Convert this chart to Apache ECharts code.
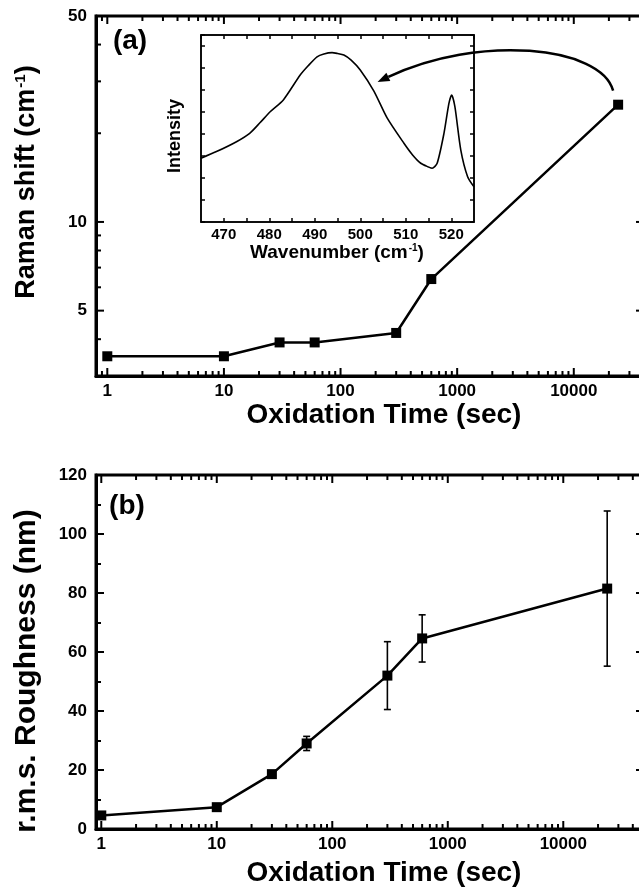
<!DOCTYPE html>
<html><head><meta charset="utf-8">
<script src="https://cdn.jsdelivr.net/npm/echarts@6/dist/echarts.min.js"></script>
<style>html,body{margin:0;padding:0;background:#fff;overflow:hidden}#c{width:660px;height:890px}</style>
</head><body><div id="c"></div>
<script>
// ---- data ----
const ramanTime = [1, 10, 30, 60, 300, 600, 24000];
const ramanShift = [3.5, 3.5, 3.9, 3.9, 4.2, 6.4, 25];
const ramanTickLabels = [5, 10, 50];
const ramanMinorTicks = [3, 4, 6, 7, 8, 9, 20, 30, 40];

const wavenumber = [465, 468.4, 472.8, 475.7, 478, 480.2, 483.1, 486.8, 488.5, 490.5, 492, 493.8, 495, 496.4, 498, 500, 503.0, 505.9, 509.6, 511.5, 513.3, 515, 515.8, 516.9, 518.4, 519.5, 520.1, 520.8, 522.1, 523.6, 525];
const intensity = [29.0, 32.0, 36.5, 40.3, 45.2, 50.1, 55.5, 66.8, 70.9, 75.1, 76.4, 77.0, 76.6, 75.9, 73.6, 69.1, 59.5, 47.3, 35.8, 30.5, 26.7, 25.0, 24.4, 26.7, 40.3, 54.0, 57.7, 52.4, 32.7, 20.6, 16.0];

const roughTime = [1, 10, 30, 60, 300, 600, 24000];
const roughness = [4.6, 7.4, 18.6, 29.0, 52.0, 64.6, 81.5];
const roughErr = [0, 0, 0, 2.4, 11.5, 8.0, 26.3];

const timeTickLabels = [1, 10, 100, 1000, 10000];

// ---- helpers ----
const FF = '"Liberation Sans", Arial, Helvetica, sans-serif';
const lbl = (size) => ({ fontSize: size, fontWeight: 'bold', fontFamily: FF, color: '#000' });

function logTickValues(min, max) {
  const out = [];
  for (let e = -1; e <= 6; e++) {
    for (let m = 1; m <= 9; m++) {
      const v = m * Math.pow(10, e);
      if (v > min * 1.0001 && v < max * 0.9999) out.push({ value: v, major: m === 1 });
    }
  }
  return out;
}

function xTickSeries(xi, yi, yRef, vals) {
  return {
    type: 'custom', xAxisIndex: xi, yAxisIndex: yi, silent: true, z: 6, clip: false,
    encode: { x: 0, y: 1 },
    data: vals.map(v => [v.value, yRef, v.major ? 1 : 0]),
    renderItem(params, api) {
      const cs = params.coordSys;
      const x = api.coord([api.value(0), api.value(1)])[0];
      const len = api.value(2) ? 8 : 5;
      const st = { stroke: '#000', lineWidth: 2 };
      const yb = cs.y + cs.height, yt = cs.y;
      return { type: 'group', children: [
        { type: 'line', shape: { x1: x, y1: yb, x2: x, y2: yb - len }, style: st },
        { type: 'line', shape: { x1: x, y1: yt, x2: x, y2: yt + len }, style: st }
      ] };
    }
  };
}

function yTickSeries(xi, yi, xRef, vals) {
  return {
    type: 'custom', xAxisIndex: xi, yAxisIndex: yi, silent: true, z: 6, clip: false,
    encode: { x: 0, y: 1 },
    data: vals.map(v => [xRef, v.value, v.major ? 1 : 0]),
    renderItem(params, api) {
      const cs = params.coordSys;
      const val = api.value(1);
      const y = api.coord([api.value(0), val])[1];
      const major = api.value(2);
      const len = major ? 8 : 5;
      const st = { stroke: '#000', lineWidth: 2 };
      const xl = cs.x, xr = cs.x + cs.width;
      const ch = [
        { type: 'line', shape: { x1: xl, y1: y, x2: xl + len, y2: y }, style: st },
        { type: 'line', shape: { x1: xr, y1: y, x2: xr - len, y2: y }, style: st }
      ];
      if (major) ch.push({ type: 'text', x: xl - 9, y: y,
        style: { text: String(val), align: 'right', verticalAlign: 'middle',
                 font: 'bold 17px ' + FF, fill: '#000' } });
      return { type: 'group', children: ch };
    }
  };
}

const topXMin = 0.8, topXMax = 40000, botXMin = 0.9, botXMax = 50000;
const ramanYTicks = ramanTickLabels.map(v => ({ value: v, major: true }))
  .concat(ramanMinorTicks.map(v => ({ value: v, major: false })));

const logLabel = {
  ...lbl(17), margin: 7, showMinLabel: false, showMaxLabel: false,
  formatter: v => {
    const l = Math.log10(v);
    const r = Math.round(l);
    if (Math.abs(l - r) > 1e-6) return '';
    const n = Math.round(Math.pow(10, r));
    return timeTickLabels.indexOf(n) >= 0 ? String(n) : '';
  }
};
const thickLine = { show: true, onZero: false, lineStyle: { color: '#000', width: 3 } };
const thinLine = { show: true, onZero: false, lineStyle: { color: '#000', width: 1.5 } };

const chart = echarts.init(document.getElementById('c'), null, { renderer: 'canvas' });

const option = {
  animation: false,
  backgroundColor: '#fff',
  grid: [
    { left: 96, top: 16, width: 548, height: 360, show: true, borderColor: '#000', borderWidth: 3, backgroundColor: 'transparent' },
    { left: 201, top: 35, width: 273, height: 187, show: true, borderColor: '#000', borderWidth: 1.5, backgroundColor: '#fff', z: 3 },
    { left: 96, top: 475, width: 548, height: 354, show: true, borderColor: '#000', borderWidth: 3, backgroundColor: 'transparent' }
  ],
  xAxis: [
    { type: 'log', logBase: 10, gridIndex: 0, min: topXMin, max: topXMax,
      axisLine: thickLine, axisTick: { show: false }, splitLine: { show: false }, axisLabel: logLabel },
    { type: 'value', gridIndex: 1, min: 465, max: 525, interval: 5, z: 4,
      axisLine: thinLine, axisTick: { show: true, inside: true, length: 4, lineStyle: { width: 1.5, color: '#000' } },
      splitLine: { show: false },
      axisLabel: { ...lbl(15), margin: 5, showMinLabel: false, showMaxLabel: false,
        formatter: v => (v % 10 === 0 ? String(v) : '') } },
    { type: 'value', gridIndex: 1, position: 'top', min: 465, max: 525, interval: 5, z: 4,
      axisLine: thinLine, axisTick: { show: true, inside: true, length: 4, lineStyle: { width: 1.5, color: '#000' } },
      splitLine: { show: false }, axisLabel: { show: false } },
    { type: 'log', logBase: 10, gridIndex: 2, min: botXMin, max: botXMax,
      axisLine: thickLine, axisTick: { show: false }, splitLine: { show: false }, axisLabel: logLabel }
  ],
  yAxis: [
    { type: 'log', logBase: 10, gridIndex: 0, min: 3, max: 50,
      axisLine: thickLine, axisTick: { show: false }, splitLine: { show: false }, axisLabel: { show: false } },
    { type: 'value', gridIndex: 1, min: 0, max: 85, interval: 10, z: 4,
      axisLine: thinLine, axisTick: { show: true, inside: true, length: 4, lineStyle: { width: 1.5, color: '#000' } },
      splitLine: { show: false }, axisLabel: { show: false } },
    { type: 'value', gridIndex: 1, position: 'right', min: 0, max: 85, interval: 10, z: 4,
      axisLine: thinLine, axisTick: { show: true, inside: true, length: 4, lineStyle: { width: 1.5, color: '#000' } },
      splitLine: { show: false }, axisLabel: { show: false } },
    { type: 'value', gridIndex: 2, min: 0, max: 120, interval: 20,
      axisLine: thickLine,
      axisTick: { show: true, inside: true, length: 8, lineStyle: { width: 2, color: '#000' } },
      minorTick: { show: true, splitNumber: 2, length: 5, lineStyle: { width: 2, color: '#000' } },
      splitLine: { show: false }, minorSplitLine: { show: false },
      axisLabel: { ...lbl(17), margin: 9 } },
    { type: 'value', gridIndex: 2, position: 'right', min: 0, max: 120, interval: 20,
      axisLine: { show: false },
      axisTick: { show: true, inside: true, length: 8, lineStyle: { width: 2, color: '#000' } },
      minorTick: { show: true, splitNumber: 2, length: 5, lineStyle: { width: 2, color: '#000' } },
      splitLine: { show: false }, minorSplitLine: { show: false }, axisLabel: { show: false } }
  ],
  series: [
    { name: 'Raman shift', type: 'line', xAxisIndex: 0, yAxisIndex: 0, z: 5,
      data: ramanTime.map((t, i) => [t, ramanShift[i]]),
      symbol: 'rect', symbolSize: 10, lineStyle: { color: '#000', width: 2.5 }, itemStyle: { color: '#000' } },
    { name: 'Spectrum', type: 'line', xAxisIndex: 1, yAxisIndex: 1, z: 5, smooth: 0.25,
      data: wavenumber.map((w, i) => [w, intensity[i]]),
      showSymbol: false, lineStyle: { color: '#000', width: 1.6 } },
    { name: 'Roughness', type: 'line', xAxisIndex: 3, yAxisIndex: 3, z: 5,
      data: roughTime.map((t, i) => [t, roughness[i]]),
      symbol: 'rect', symbolSize: 10, lineStyle: { color: '#000', width: 2.5 }, itemStyle: { color: '#000' } },
    { name: 'Roughness error', type: 'custom', xAxisIndex: 3, yAxisIndex: 3, z: 6, silent: true,
      encode: { x: 0, y: 1 },
      data: roughTime.map((t, i) => [t, roughness[i], roughErr[i]]),
      renderItem(params, api) {
        const x = api.value(0), y = api.value(1), e = api.value(2);
        if (!e) return;
        const a = api.coord([x, y + e]), b = api.coord([x, y - e]);
        const w = 3.5, st = { stroke: '#000', lineWidth: 1.6 };
        return { type: 'group', children: [
          { type: 'line', shape: { x1: a[0], y1: a[1], x2: b[0], y2: b[1] }, style: st },
          { type: 'line', shape: { x1: a[0] - w, y1: a[1], x2: a[0] + w, y2: a[1] }, style: st },
          { type: 'line', shape: { x1: b[0] - w, y1: b[1], x2: b[0] + w, y2: b[1] }, style: st }
        ] };
      } },
    xTickSeries(0, 0, 3, logTickValues(topXMin, topXMax)),
    yTickSeries(0, 0, topXMin, ramanYTicks),
    xTickSeries(3, 3, 0, logTickValues(botXMin, botXMax))
  ]
};
chart.setOption(option);

// ---- annotations: titles, panel labels, arrow ----
const titleRich = (size) => ({
  n: { fontSize: size, fontWeight: 'bold', fontFamily: FF, fill: '#000', color: '#000' },
  s: { fontSize: Math.round(size * 0.55), fontWeight: 'bold', fontFamily: FF, fill: '#000', color: '#000', verticalAlign: 'top', padding: [0, 0, 0, 1] }
});
function txt(id, x, y, text, size, rot, rich) {
  return { type: 'text', id, x, y, rotation: rot || 0, z: 10,
    style: { text, fill: '#000', align: 'center', verticalAlign: 'middle',
      font: 'bold ' + size + 'px ' + FF, rich } };
}

const p0 = chart.convertToPixel({ xAxisIndex: 0, yAxisIndex: 0 }, [ramanTime[6], ramanShift[6]]);
const pEnd = chart.convertToPixel({ xAxisIndex: 1, yAxisIndex: 1 }, [503.8, 63.6]);
const S = [p0[0] - 5, p0[1] - 14];
const E = pEnd;
const C1 = [S[0] - 12, S[1] - 45];
const C2 = [E[0] + 100, E[1] - 48];
let dx = E[0] - C2[0], dy = E[1] - C2[1];
const dl = Math.hypot(dx, dy); dx /= dl; dy /= dl;
const base = [E[0] - dx * 12, E[1] - dy * 12];
const px = -dy, py = dx;

chart.setOption({
  graphic: [
    txt('ta', 27, 182, '{n|Raman shift (cm}{s|-1}{n|)}', 27, Math.PI / 2, titleRich(27)),
    txt('tx1', 384, 415, 'Oxidation Time (sec)', 28),
    txt('tb', 27, 671, 'r.m.s. Roughness (nm)', 30, Math.PI / 2),
    txt('tx2', 384, 873, 'Oxidation Time (sec)', 28),
    txt('pa', 130, 41, '(a)', 28),
    txt('pb', 127, 506, '(b)', 28),
    txt('ti', 175, 136, 'Intensity', 18, Math.PI / 2),
    txt('tw', 337, 253, '{n|Wavenumber (cm}{s|-1}{n|)}', 19, 0, titleRich(19)),
    { type: 'bezierCurve', id: 'arc', z: 10, silent: true,
      shape: { x1: S[0], y1: S[1], cpx1: C1[0], cpy1: C1[1], cpx2: C2[0], cpy2: C2[1], x2: base[0], y2: base[1] },
      style: { stroke: '#000', lineWidth: 2.5, fill: null } },
    { type: 'polygon', id: 'head', z: 10, silent: true,
      shape: { points: [[E[0], E[1]], [base[0] + px * 4.5, base[1] + py * 4.5], [base[0] - px * 4.5, base[1] - py * 4.5]] },
      style: { fill: '#000' } }
  ]
});
</script>
</body></html>
